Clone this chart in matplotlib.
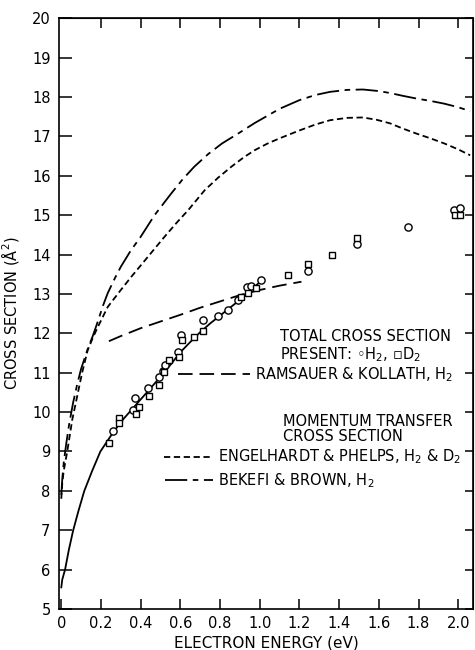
import matplotlib
matplotlib.use("Agg")
import matplotlib.pyplot as plt

plt.rcParams['font.family'] = ['DejaVu Sans']
plt.rcParams['lines.scale_dashes'] = False

# ---- data ----
# Present measurements (total cross section)
h2_energy = [0.263, 0.360, 0.369, 0.439, 0.492, 0.515, 0.525, 0.588, 0.604, 0.714,
             0.790, 0.840, 0.890, 0.938, 0.958, 1.005, 1.241, 1.492, 1.746, 1.980, 2.010]
h2_sigma = [9.53, 10.05, 10.37, 10.62, 10.90, 11.05, 11.19, 11.53, 11.95, 12.34,
            12.44, 12.59, 12.84, 13.18, 13.20, 13.35, 13.59, 14.26, 14.69, 15.14, 15.19]

d2_energy = [0.242, 0.293, 0.293, 0.377, 0.391, 0.444, 0.492, 0.520, 0.545, 0.591,
             0.608, 0.670, 0.714, 0.907, 0.941, 0.983, 1.143, 1.241, 1.366, 1.492,
             1.985, 2.007]
d2_sigma = [9.21, 9.84, 9.73, 9.95, 10.12, 10.41, 10.70, 11.01, 11.32, 11.39,
            11.83, 11.90, 12.06, 12.93, 13.03, 13.14, 13.48, 13.75, 13.98, 14.41,
            15.00, 15.00]

# Smooth fit through present data (solid)
fit_energy = [0.0, 0.005, 0.019, 0.038, 0.060, 0.087, 0.116, 0.155, 0.197, 0.25,
              0.30, 0.37, 0.44, 0.50, 0.55, 0.60, 0.65, 0.70, 0.75, 0.80, 0.85,
              0.90, 0.95, 1.00]
fit_sigma = [5.55, 5.75, 6.0, 6.5, 7.0, 7.5, 8.0, 8.5, 9.0, 9.4,
             9.75, 10.15, 10.55, 10.9, 11.2, 11.52, 11.78, 12.03, 12.25, 12.45, 12.65,
             12.85, 13.07, 13.3]

# Ramsauer & Kollath, H2 (total)
rk_energy = [0.24, 0.30, 0.40, 0.50, 0.60, 0.70, 0.80, 0.90, 1.00, 1.10, 1.21]
rk_sigma = [11.80, 11.93, 12.13, 12.30, 12.47, 12.65, 12.81, 12.97, 13.10, 13.21, 13.31]

# Engelhardt & Phelps, H2 & D2 (momentum transfer)
ep_energy = [0.0, 0.005, 0.012, 0.03, 0.055, 0.08, 0.105, 0.133, 0.16, 0.184, 0.234,
             0.30, 0.352, 0.436, 0.52, 0.58, 0.64, 0.722, 0.79, 0.857, 0.92, 0.975,
             1.04, 1.10, 1.20, 1.28, 1.354, 1.44, 1.52, 1.59, 1.657, 1.72, 1.79,
             1.86, 1.93, 2.00, 2.06]
ep_sigma = [7.8, 8.2, 8.5, 9.0, 9.8, 10.4, 11.0, 11.57, 11.9, 12.16, 12.67,
            13.1, 13.43, 13.94, 14.45, 14.8, 15.13, 15.63, 15.95, 16.23, 16.47, 16.65,
            16.82, 16.95, 17.15, 17.3, 17.41, 17.47, 17.48, 17.42, 17.33, 17.2, 17.07,
            16.95, 16.82, 16.67, 16.52]

# Bekefi & Brown, H2 (momentum transfer)
bb_energy = [0.0, 0.005, 0.012, 0.025, 0.04, 0.06, 0.08, 0.10, 0.133, 0.16, 0.184,
             0.21, 0.234, 0.27, 0.30, 0.35, 0.40, 0.47, 0.554, 0.61, 0.67, 0.74,
             0.81, 0.90, 0.975, 1.10, 1.20, 1.28, 1.354, 1.44, 1.52, 1.60, 1.657,
             1.72, 1.79, 1.86, 1.93, 2.00, 2.06]
bb_sigma = [7.9, 8.3, 8.7, 9.2, 9.7, 10.25, 10.7, 11.1, 11.6, 11.95, 12.3,
            12.7, 13.02, 13.4, 13.69, 14.1, 14.45, 15.0, 15.55, 15.9, 16.23, 16.55,
            16.82, 17.1, 17.34, 17.7, 17.92, 18.05, 18.13, 18.18, 18.19, 18.15, 18.10,
            18.03, 17.96, 17.9, 17.83, 17.74, 17.64]

x_ticks = [0.0, 0.2, 0.4, 0.6, 0.8, 1.0, 1.2, 1.4, 1.6, 1.8, 2.0]
x_ticklabels = ['0', '0.2', '0.4', '0.6', '0.8', '1.0', '1.2', '1.4', '1.6', '1.8', '2.0']
y_ticks = list(range(5, 21))

# ---- styles ----
RK_DASH = (0, (10.5, 5))
EP_DASH = (0, (4.5, 2.6))
BB_DASH = (0, (16, 4, 4, 4))
LW = 1.3

fig = plt.figure(figsize=(4.75, 6.5), dpi=100)
ax = fig.add_axes([0.124, 0.063, 0.872, 0.909])

ax.plot(fit_energy, fit_sigma, color='black', lw=LW, solid_joinstyle='round')
ax.plot(rk_energy, rk_sigma, color='black', lw=LW, linestyle=RK_DASH)
ax.plot(ep_energy, ep_sigma, color='black', lw=LW, linestyle=EP_DASH)
ax.plot(bb_energy, bb_sigma, color='black', lw=LW, linestyle=BB_DASH)

ax.plot(h2_energy, h2_sigma, linestyle='none', marker='o', ms=5.2, mfc='white',
        mec='black', mew=1.0)
ax.plot(d2_energy, d2_sigma, linestyle='none', marker='s', ms=4.6, mfc='white',
        mec='black', mew=1.0)

ax.set_xlim(-0.012, 2.075)
ax.set_ylim(5, 20)
ax.set_xticks(x_ticks)
ax.set_xticklabels(x_ticklabels)
ax.set_yticks(y_ticks)

for s in ax.spines.values():
    s.set_linewidth(1.2)

ax.tick_params(axis='y', which='major', direction='in', left=True, right=False,
               length=9, width=1.1, labelsize=10.5, pad=6)
ax.tick_params(axis='x', which='major', direction='in', bottom=True, top=False,
               length=7, width=1.1, labelsize=10.5, pad=5)

# ticks on top and right
axt = ax.secondary_xaxis('top')
axt.set_xticks([0.2, 0.4, 0.6, 0.8, 1.0, 1.2, 1.4, 1.6, 1.8, 2.0])
axt.tick_params(direction='in', length=7, width=1.1, labeltop=False)
axr = ax.secondary_yaxis('right')
axr.set_yticks(y_ticks)
axr.tick_params(direction='in', length=6, width=1.1, labelright=False)

ax.set_xlabel('ELECTRON ENERGY (eV)', fontsize=11, labelpad=3)
ax.set_ylabel('CROSS SECTION (Å$^2$)', fontsize=10.5, labelpad=8)

# ---- legend-like annotations ----
FS = 10.5
ax.text(1.10, 11.93, 'TOTAL CROSS SECTION', fontsize=FS, va='center', ha='left')
ax.text(1.10, 11.45, 'PRESENT: ◦H$_2$, ▫D$_2$', fontsize=FS, va='center', ha='left')
ax.plot([0.586, 0.95], [10.96, 10.96], color='black', lw=LW, linestyle=RK_DASH)
ax.text(0.975, 10.96, 'RAMSAUER & KOLLATH, H$_2$', fontsize=FS, va='center', ha='left')

ax.text(1.116, 9.77, 'MOMENTUM TRANSFER', fontsize=FS, va='center', ha='left')
ax.text(1.116, 9.37, 'CROSS SECTION', fontsize=FS, va='center', ha='left')
ax.plot([0.52, 0.763], [8.86, 8.86], color='black', lw=LW, linestyle=EP_DASH)
ax.text(0.788, 8.86, 'ENGELHARDT & PHELPS, H$_2$ & D$_2$', fontsize=FS, va='center', ha='left')
ax.plot([0.525, 0.763], [8.27, 8.27], color='black', lw=LW, linestyle=BB_DASH)
ax.text(0.788, 8.27, 'BEKEFI & BROWN, H$_2$', fontsize=FS, va='center', ha='left')

fig.savefig('out.png', dpi=100)
